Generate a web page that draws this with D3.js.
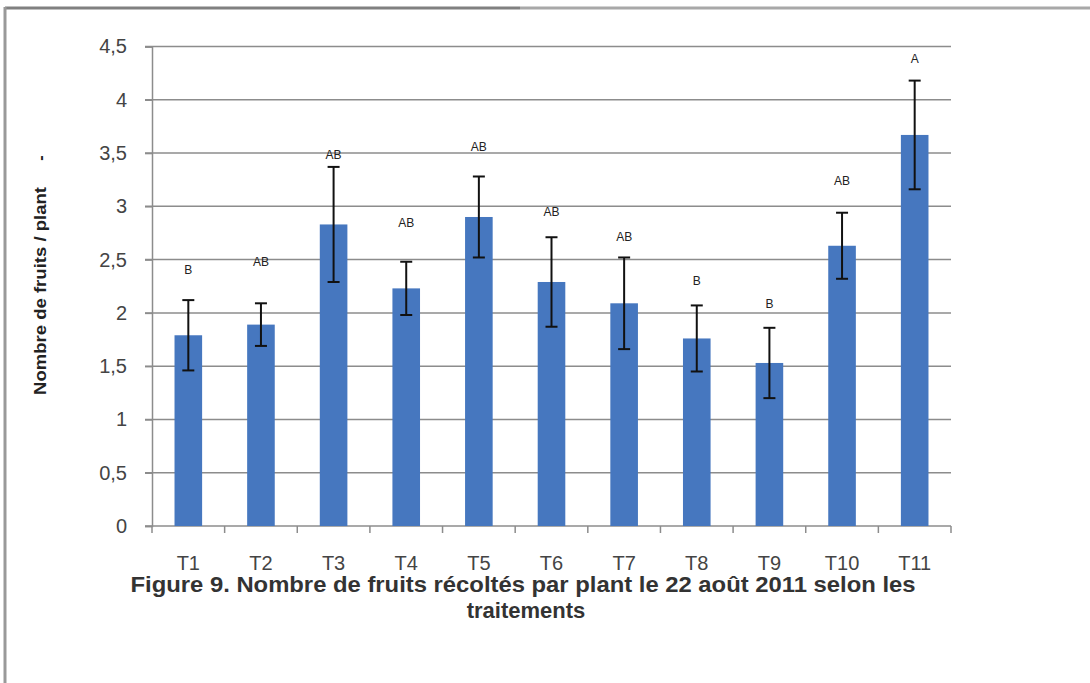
<!DOCTYPE html>
<html>
<head>
<meta charset="utf-8">
<script src="https://cdn.jsdelivr.net/npm/d3@7"></script>
<style>
  body { margin: 0; background: #fff; }
  svg { display: block; }
  text { font-family: "Liberation Sans", Arial, sans-serif; }
</style>
</head>
<body>
<svg id="chart" width="1090" height="683"></svg>
<script>
// data
const treatments = ["T1", "T2", "T3", "T4", "T5", "T6", "T7", "T8", "T9", "T10", "T11"]
const means = [1.79, 1.89, 2.83, 2.23, 2.90, 2.29, 2.09, 1.76, 1.53, 2.63, 3.67]
const errors = [0.33, 0.20, 0.54, 0.25, 0.38, 0.42, 0.43, 0.31, 0.33, 0.31, 0.51]
const groups = ["B", "AB", "AB", "AB", "AB", "AB", "AB", "B", "B", "AB", "A"]
const groupLevel = [2.40, 2.48, 3.48, 2.84, 3.56, 2.95, 2.71, 2.30, 2.08, 3.24, 4.38]
const yTicks = [0, 0.5, 1, 1.5, 2, 2.5, 3, 3.5, 4, 4.5]

const svg = d3.select("#chart")

// frame of the scanned page
svg.append("line").attr("x1", 5).attr("x2", 520).attr("y1", 8).attr("y2", 8)
  .attr("stroke", "#808080").attr("stroke-width", 3)
svg.append("line").attr("x1", 520).attr("x2", 1090).attr("y1", 8).attr("y2", 8)
  .attr("stroke", "#a8a8a8").attr("stroke-width", 3)
svg.append("line").attr("x1", 5).attr("x2", 5).attr("y1", 7).attr("y2", 683)
  .attr("stroke", "#999").attr("stroke-width", 3)

const x = d3.scaleBand().domain(treatments).range([152, 951]).paddingInner(0.62).paddingOuter(0.31)
const y = d3.scaleLinear().domain([0, 4.5]).range([526, 46.5])

// gridlines
svg.append("g").selectAll("line")
  .data(yTicks.filter(d => d > 0))
  .enter().append("line")
  .attr("x1", 145).attr("x2", 951)
  .attr("y1", d => y(d)).attr("y2", d => y(d))
  .attr("stroke", "#8c8c8c").attr("stroke-width", 1.5)

// y axis
const yAxis = svg.append("g")
  .attr("transform", "translate(152,0)")
  .call(d3.axisLeft(y).tickValues(yTicks).tickSize(7).tickFormat(d => String(d).replace(".", ",")))
yAxis.select(".domain").attr("stroke", "#8c8c8c").attr("stroke-width", 1.5)
yAxis.selectAll(".tick line").attr("stroke", "#8c8c8c").attr("stroke-width", 1.5)
yAxis.selectAll(".tick text")
  .attr("x", -25)
  .style("font-size", "20px").attr("fill", "#444")

// x axis: ticks between categories
const step = x.step()
const bounds = d3.range(treatments.length + 1).map(i => 152 + i * step)
svg.append("line").attr("x1", 145).attr("x2", 951).attr("y1", y(0)).attr("y2", y(0))
  .attr("stroke", "#8c8c8c").attr("stroke-width", 1.5)
svg.append("g").selectAll("line")
  .data(bounds)
  .enter().append("line")
  .attr("x1", d => d).attr("x2", d => d)
  .attr("y1", y(0)).attr("y2", y(0) + 7)
  .attr("stroke", "#8c8c8c").attr("stroke-width", 1.5)
svg.append("g").selectAll("text")
  .data(treatments)
  .enter().append("text")
  .attr("x", d => x(d) + x.bandwidth() / 2)
  .attr("y", 570)
  .attr("text-anchor", "middle")
  .style("font-size", "20px").attr("fill", "#444")
  .text(d => d)

// bars
svg.append("g").selectAll("rect")
  .data(treatments)
  .enter().append("rect")
  .attr("x", d => x(d))
  .attr("y", (d, i) => y(means[i]))
  .attr("width", x.bandwidth())
  .attr("height", (d, i) => y(0) - y(means[i]))
  .attr("fill", "#4677bf")

// error bars
const eb = svg.append("g").attr("stroke", "#111").attr("stroke-width", 2)
treatments.forEach((t, i) => {
  const cx = x(t) + x.bandwidth() / 2
  const top = y(means[i] + errors[i]), bot = y(means[i] - errors[i])
  eb.append("line").attr("x1", cx).attr("x2", cx).attr("y1", top).attr("y2", bot)
  eb.append("line").attr("x1", cx - 6).attr("x2", cx + 6).attr("y1", top).attr("y2", top)
  eb.append("line").attr("x1", cx - 6).attr("x2", cx + 6).attr("y1", bot).attr("y2", bot)
})

// significance letters
svg.append("g").selectAll("text")
  .data(treatments)
  .enter().append("text")
  .attr("x", d => x(d) + x.bandwidth() / 2)
  .attr("y", (d, i) => y(groupLevel[i]) + 4)
  .attr("text-anchor", "middle")
  .style("font-size", "12px").attr("fill", "#222")
  .text((d, i) => groups[i])

// y axis title
svg.append("text")
  .attr("transform", "translate(46,291) rotate(-90)")
  .attr("text-anchor", "middle")
  .attr("textLength", 208).attr("lengthAdjust", "spacingAndGlyphs")
  .style("font-size", "17px").style("font-weight", "bold").attr("fill", "#222")
  .text("Nombre de fruits / plant")
svg.append("text")
  .attr("transform", "translate(46,158) rotate(-90)")
  .attr("text-anchor", "middle")
  .style("font-size", "16px").style("font-weight", "bold").attr("fill", "#222")
  .text("-")

// caption
svg.append("text")
  .attr("x", 523).attr("y", 592)
  .attr("text-anchor", "middle")
  .attr("textLength", 785).attr("lengthAdjust", "spacingAndGlyphs")
  .style("font-size", "22px").style("font-weight", "bold").attr("fill", "#333")
  .text("Figure 9.  Nombre de fruits récoltés par plant le 22 août 2011 selon les")
svg.append("text")
  .attr("x", 526).attr("y", 618)
  .attr("text-anchor", "middle")
  .style("font-size", "22px").style("font-weight", "bold").attr("fill", "#333")
  .text("traitements")
</script>
</body>
</html>
